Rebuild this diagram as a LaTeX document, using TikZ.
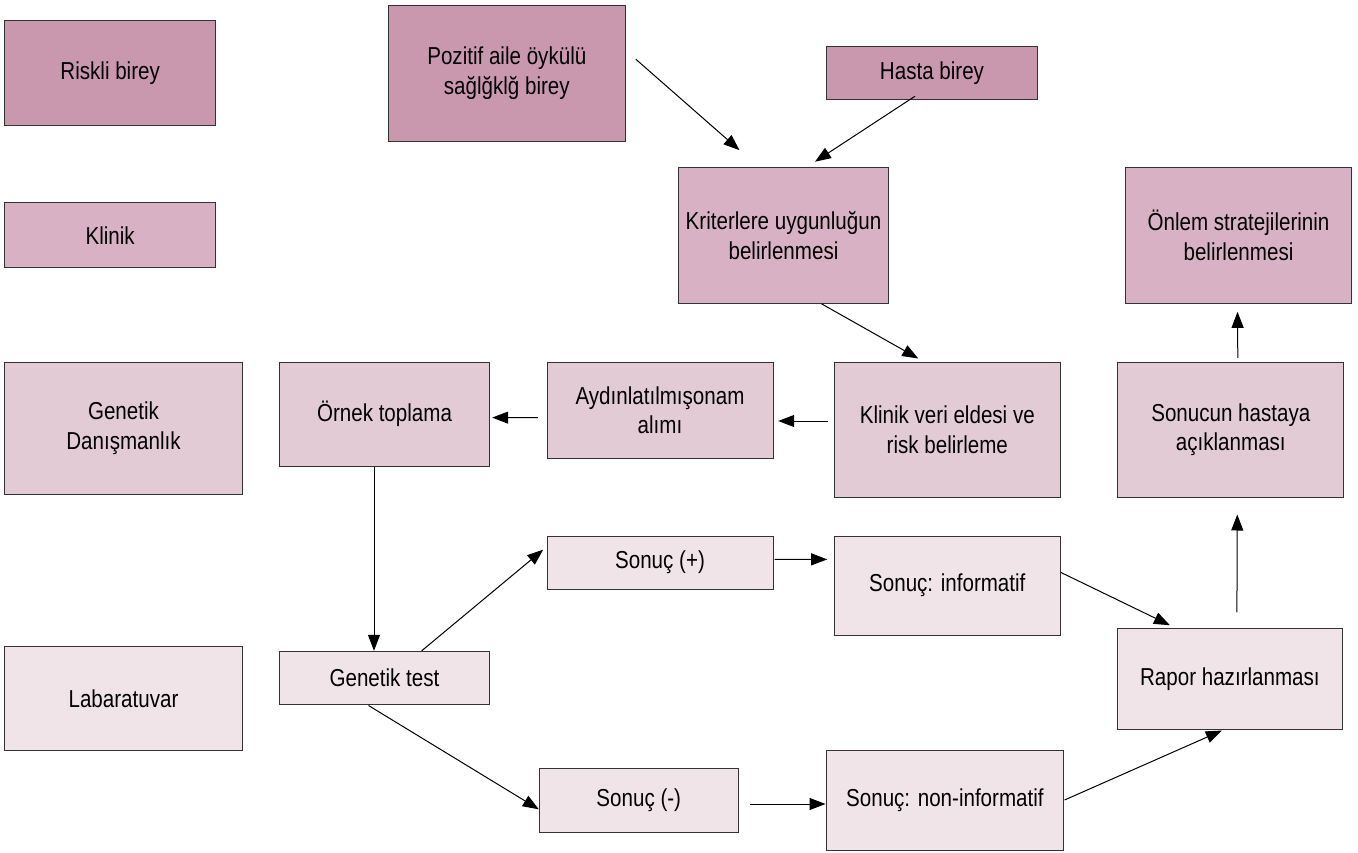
\documentclass[tikz,border=0pt]{standalone}
\usepackage{fontspec}
\setmainfont{Liberation Sans}[FakeStretch=0.84]
\usetikzlibrary{arrows.meta,positioning}

\definecolor{riskcol}{RGB}{202,152,174}
\definecolor{klincol}{RGB}{216,178,196}
\definecolor{dancol}{RGB}{227,203,213}
\definecolor{labcol}{RGB}{241,228,233}

\begin{document}
\begin{tikzpicture}[x=1pt,y=-1pt,
  box/.style={rectangle,draw=black!80,line width=1pt,inner sep=0pt,align=center,
    font=\fontsize{24.5}{29.5}\selectfont},
  riskbox/.style={box,fill=riskcol},
  klinbox/.style={box,fill=klincol},
  danbox/.style={box,fill=dancol},
  labbox/.style={box,fill=labcol},
  arr/.style={-{Triangle[length=16pt,width=12pt]},line width=1pt}]
\useasboundingbox (0,0) rectangle (1358,853);
% legend column
\node[riskbox,minimum width=211,minimum height=104.7] (risk) at (110.2,73.3) {Riskli birey};
\node[klinbox,minimum width=211,minimum height=65] (klin) at (110.2,235.5) {Klinik};
\node[danbox,minimum width=237.6,minimum height=132.3] (gendan) at (123.5,428.2) {Genetik\\Danışmanlık};
\node[labbox,minimum width=237.6,minimum height=104.3] (lab) at (123.5,698.8) {Labaratuvar};
% flow
\node[riskbox,minimum width=237,minimum height=135.7] (poz) at (506.8,73.2) {Pozitif aile öykülü\\sağlğklğ birey};
\node[riskbox,minimum width=210.6,minimum height=53] (hasta) at (932,73.2) {Hasta birey};
\node[klinbox,minimum width=210.4,minimum height=135.6] (krit) at (783.5,235.5) {Kriterlere uygunluğun\\belirlenmesi};
\node[klinbox,minimum width=226.4,minimum height=135.6] (onlem) at (1238.5,235.5) {Önlem stratejilerinin\\belirlenmesi};
\node[danbox,minimum width=210.4,minimum height=104.3] (orn) at (384.5,414.2) {Örnek toplama};
\node[danbox,minimum width=226,minimum height=96.3] (ayd) at (660,410.2) {Aydınlatılmışonam\\alımı};
\node[danbox,minimum width=226,minimum height=135] (kve) at (947.3,429.5) {Klinik veri eldesi ve\\risk belirleme};
\node[danbox,minimum width=226.3,minimum height=135] (sonucun) at (1230.8,429.5) {Sonucun hastaya\\açıklanması};
\node[labbox,minimum width=226,minimum height=53] (spos) at (660,562.5) {Sonuç (+)};
\node[labbox,minimum width=226,minimum height=99.3] (sinf) at (947.3,585.7) {Sonuç: informatif};
\node[labbox,minimum width=210.4,minimum height=53] (gtest) at (384.5,677.8) {Genetik test};
\node[labbox,minimum width=224.3,minimum height=100.7] (rapor) at (1229.9,678.7) {Rapor hazırlanması};
\node[labbox,minimum width=199,minimum height=64.4] (sneg) at (638.8,800.5) {Sonuç (-)};
\node[labbox,minimum width=236.3,minimum height=99.6] (snon) at (944.9,800.5) {Sonuç: non-informatif};
% arrows
\draw[arr] ([shift={(10,-14)}]poz.east) -- ([shift={(-44,-17)}]krit.north);
\draw[arr] ([shift={(-17,-4)}]hasta.south) -- ([shift={(31.5,-5.5)}]krit.north);
\draw[arr] ([shift={(38,0)}]krit.south) -- ([shift={(-29,-3)}]kve.north);
\draw[arr] ([shift={(-6,-8.5)}]kve.west) -- ([shift={(4.7,10.8)}]ayd.east);
\draw[arr] ([shift={(-8.7,7.5)}]ayd.west) -- ([shift={(2,3.4)}]orn.east);
\draw[arr] ([shift={(-10.5,0)}]orn.south) -- ([shift={(-10.5,0)}]gtest.north);
\draw[arr] ([shift={(37.2,0)}]gtest.north) -- ([shift={(-3.3,-12.8)}]spos.west);
\draw[arr] ([shift={(-16,0.7)}]gtest.south) -- ([shift={(0,8.8)}]sneg.west);
\draw[arr] ([shift={(1,-3.2)}]spos.east) -- ([shift={(-6.6,-26.3)}]sinf.west);
\draw[arr] ([shift={(11,3.5)}]sneg.east) -- ([shift={(-0.7,3.5)}]snon.west);
\draw[arr] ([shift={(0,-13.3)}]sinf.east) -- ([shift={(-60,-2.6)}]rapor.north);
\draw[arr] ([shift={(1,-0.5)}]snon.east) -- ([shift={(-8,1)}]rapor.south);
\draw[arr] ([shift={(7,-15.6)}]rapor.north) -- ([shift={(6.5,17)}]sonucun.south);
\draw[arr] ([shift={(7,-3.7)}]sonucun.north) -- ([shift={(-1,8)}]onlem.south);
\end{tikzpicture}
\end{document}
